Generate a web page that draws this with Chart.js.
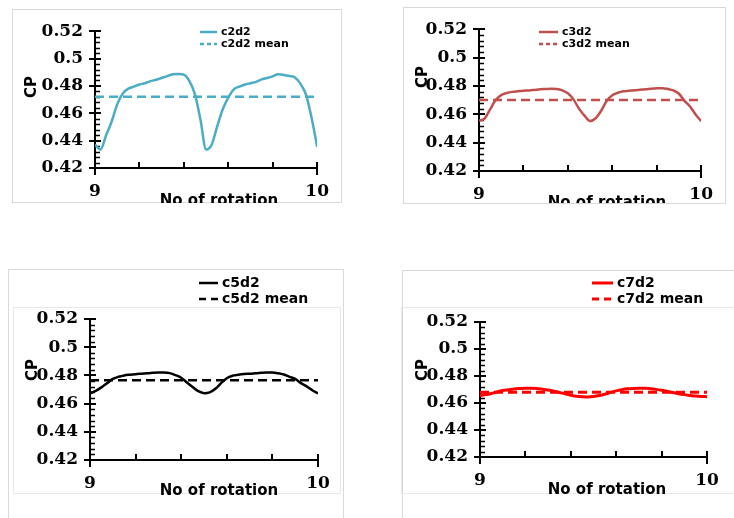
<!DOCTYPE html>
<html>
<head>
<meta charset="utf-8">
<script src="https://cdn.jsdelivr.net/npm/chart.js@4.4.1/dist/chart.umd.min.js"></script>
<style>
    html, body { margin: 0; padding: 0; background: #fff; }
    body { position: relative; width: 734px; height: 518px; overflow: hidden; }
    .frame { position: absolute; border: 1px solid #d9d9d9; box-sizing: border-box; }
    .inner { border-color: #e8e8e8; }
    canvas { position: absolute; }
</style>
</head>
<body>
<div class="frame" style="left:12px;top:9px;width:330px;height:194px"></div>
<div class="frame" style="left:403px;top:7px;width:323px;height:197px"></div>
<div class="frame" style="left:8px;top:269px;width:336px;height:260px"></div>
<div class="frame inner" style="left:13px;top:307px;width:328px;height:187px"></div>
<div class="frame" style="left:402px;top:270px;width:340px;height:260px"></div>
<div class="frame inner" style="left:401px;top:307px;width:340px;height:187px"></div>

<canvas id="c2" width="330" height="194" style="left:12px;top:9px"></canvas>
<canvas id="c3" width="323" height="196" style="left:403px;top:7px"></canvas>
<canvas id="c5" width="335" height="249" style="left:8px;top:269px"></canvas>
<canvas id="c7" width="332" height="248" style="left:402px;top:270px"></canvas>

<script>
// Data
const rotation = [9, 9.025, 9.05, 9.075, 9.1, 9.125, 9.15, 9.175, 9.2, 9.225, 9.25, 9.275, 9.3, 9.325, 9.35, 9.375, 9.4, 9.425, 9.45, 9.475, 9.5,
                  9.525, 9.55, 9.575, 9.6, 9.625, 9.65, 9.675, 9.7, 9.725, 9.75, 9.775, 9.8, 9.825, 9.85, 9.875, 9.9, 9.925, 9.95, 9.975, 10];

const c2d2 = [0.437, 0.4335, 0.444, 0.454, 0.4665, 0.4745, 0.478, 0.4795, 0.481, 0.482, 0.4835, 0.4845, 0.4858, 0.4872, 0.4885, 0.4888, 0.4882, 0.4835, 0.4738, 0.455, 0.4335,
              0.437, 0.4505, 0.463, 0.4715, 0.4775, 0.4795, 0.481, 0.482, 0.483, 0.4848, 0.4858, 0.487, 0.4885, 0.488, 0.4872, 0.4862, 0.4815, 0.4735, 0.4565, 0.4355];
const c3d2 = [0.4555, 0.457, 0.4635, 0.470, 0.4735, 0.475, 0.4758, 0.4762, 0.4766, 0.4768, 0.4772, 0.4776, 0.4778, 0.478, 0.4778, 0.4768, 0.4748, 0.4705, 0.464, 0.459, 0.4553,
              0.4572, 0.4625, 0.4695, 0.4735, 0.4752, 0.4762, 0.4766, 0.477, 0.4773, 0.4776, 0.478, 0.4783, 0.4784, 0.4778, 0.4768, 0.4745, 0.4695, 0.4655, 0.4598, 0.4552];
const c5d2 = [0.4674, 0.469, 0.4715, 0.4745, 0.4775, 0.479, 0.48, 0.4805, 0.4809, 0.4812, 0.4815, 0.4818, 0.482, 0.482, 0.4816, 0.4802, 0.4783, 0.475, 0.4718, 0.4688, 0.4674,
              0.468, 0.4705, 0.4745, 0.478, 0.4798, 0.4805, 0.481, 0.4812, 0.4815, 0.4818, 0.482, 0.482, 0.4815, 0.4806, 0.479, 0.4775, 0.4745, 0.4722, 0.4695, 0.4672];
const c7d2 = [0.4655, 0.4662, 0.467, 0.4682, 0.4692, 0.4698, 0.4704, 0.4707, 0.4709, 0.4709, 0.4707, 0.4702, 0.4696, 0.4688, 0.4678, 0.4668, 0.4658, 0.465, 0.4646, 0.4645, 0.4648,
              0.4655, 0.4665, 0.4678, 0.469, 0.4699, 0.4705, 0.4708, 0.4709, 0.4709, 0.4706, 0.4701, 0.4694, 0.4686, 0.4678, 0.4669, 0.4662, 0.4656, 0.4651, 0.4648, 0.4647];

const c2d2Mean = 0.472;
const c3d2Mean = 0.470;
const c5d2Mean = 0.4765;
const c7d2Mean = 0.468;

const yTicks = [0.42, 0.44, 0.46, 0.48, 0.5, 0.52];
const xTicks = [9, 10];
const xMinorTicks = [9.2, 9.4, 9.6, 9.8];

const tickFont = { family: "'DejaVu Serif', 'Liberation Serif', serif", size: 17, weight: 'bold' };
const sansBold = "'DejaVu Sans', Verdana, sans-serif";

// axis lines + major/minor tick marks, drawn under the curves
const axisTicks = {
    id: 'axisTicks',
    beforeDatasetsDraw(chart) {
        const { ctx, chartArea: a, scales: { x, y } } = chart;
        ctx.save();
        ctx.strokeStyle = '#000';
        ctx.lineWidth = 2;
        ctx.beginPath();
        ctx.moveTo(a.left, a.top - 1);
        ctx.lineTo(a.left, a.bottom);
        ctx.lineTo(a.right, a.bottom);
        yTicks.forEach(v => {
            const py = Math.round(y.getPixelForValue(v));
            ctx.moveTo(a.left - 6, py); ctx.lineTo(a.left + 6, py);
        });
        xTicks.forEach(v => {
            const px = Math.round(x.getPixelForValue(v));
            ctx.moveTo(px, a.bottom - 6); ctx.lineTo(px, a.bottom + 7);
        });
        xMinorTicks.forEach(v => {
            const px = Math.round(x.getPixelForValue(v));
            ctx.moveTo(px, a.bottom); ctx.lineTo(px, a.bottom - 6);
        });
        ctx.stroke();
        ctx.lineWidth = 1.5;
        ctx.beginPath();
        for (let i = 0; i < yTicks.length - 1; i++) {
            for (let k = 1; k < 5; k++) {
                const v = yTicks[i] + (yTicks[i + 1] - yTicks[i]) * k / 5;
                const py = Math.round(y.getPixelForValue(v)) + 0.5;
                ctx.moveTo(a.left, py); ctx.lineTo(a.left + 5, py);
            }
        }
        ctx.stroke();
        ctx.restore();
    }
};

// legend + axis titles at fixed spots inside each panel
const panelText = {
    id: 'panelText',
    afterDraw(chart, args, o) {
        const ctx = chart.ctx;
        ctx.save();
        ctx.fillStyle = '#000';
        ctx.textBaseline = 'middle';
        chart.data.datasets.forEach((ds, i) => {
            const ly = o.legendY[i];
            ctx.save();
            ctx.strokeStyle = ds.borderColor;
            ctx.lineWidth = ds.borderWidth;
            ctx.setLineDash(o.legendDash[i]);
            ctx.beginPath();
            ctx.moveTo(o.legendX, ly);
            ctx.lineTo(o.legendX + o.legendLen, ly);
            ctx.stroke();
            ctx.restore();
            ctx.font = 'bold ' + o.legendSize + 'px ' + sansBold;
            ctx.textAlign = 'left';
            ctx.fillText(ds.label, o.legendX + o.legendLen + 4, ly);
        });
        ctx.font = 'bold 15px ' + sansBold;
        ctx.textAlign = 'center';
        ctx.fillText('No of rotation', o.xTitle[0], o.xTitle[1]);
        ctx.translate(o.yTitle[0], o.yTitle[1]);
        ctx.rotate(-Math.PI / 2);
        ctx.fillText('CP', 0, 0);
        ctx.restore();
    }
};

function makePanel(id, values, mean, label, color, width, box, plot, text) {
    const series = rotation.map((r, i) => ({ x: r, y: values[i] }));
    const meanLine = [{ x: rotation[0], y: mean }, { x: rotation[rotation.length - 1], y: mean }];
    const off = (p) => [p[0] - box.left, p[1] - box.top];
    return new Chart(document.getElementById(id), {
        type: 'line',
        data: {
            datasets: [
                { label: label, data: series, borderColor: color, borderWidth: width,
                  pointRadius: 0, tension: 0.4, cubicInterpolationMode: 'monotone' },
                { label: label + ' mean', data: meanLine, borderColor: color, borderWidth: width,
                  borderDash: [9, 5], pointRadius: 0 }
            ]
        },
        options: {
            responsive: false,
            animation: false,
            events: [],
            layout: { padding: { left: 0, top: plot.top - box.top, right: box.left + box.width - plot.right, bottom: 0 } },
            plugins: {
                legend: { display: false },
                tooltip: { enabled: false },
                panelText: {
                    legendX: text.legendX - box.left,
                    legendY: text.legendY.map(v => v - box.top),
                    legendLen: text.legendLen,
                    legendSize: text.legendSize,
                    legendDash: [[], text.dash],
                    xTitle: off(text.xTitle),
                    yTitle: off(text.yTitle)
                }
            },
            scales: {
                x: {
                    type: 'linear', min: 9, max: 10,
                    afterBuildTicks: s => { s.ticks = xTicks.map(v => ({ value: v })); },
                    afterFit: s => { s.height = box.top + box.height - plot.bottom; },
                    grid: { display: false, drawTicks: false },
                    border: { display: false },
                    ticks: { font: tickFont, color: '#000', padding: 13, maxRotation: 0, autoSkip: false }
                },
                y: {
                    min: 0.42, max: 0.52,
                    afterBuildTicks: s => { s.ticks = yTicks.map(v => ({ value: v })); },
                    afterFit: s => { s.width = plot.left - box.left; },
                    grid: { display: false, drawTicks: false },
                    border: { display: false },
                    ticks: { font: tickFont, color: '#000', padding: 12, autoSkip: false,
                             callback: v => String(+v.toFixed(2)) }
                }
            }
        },
        plugins: [axisTicks, panelText]
    });
}

makePanel('c2', c2d2, c2d2Mean, 'c2d2', '#4bacc6', 2.5,
    { left: 12, top: 9, width: 330, height: 194 },
    { left: 95, top: 28, right: 321, bottom: 168 },
    { legendX: 200, legendY: [32, 44], legendLen: 17, legendSize: 11, dash: [4, 3], xTitle: [219, 201], yTitle: [32, 87] });

makePanel('c3', c3d2, c3d2Mean, 'c3d2', '#c0504d', 2.5,
    { left: 403, top: 7, width: 323, height: 196 },
    { left: 479, top: 24, right: 705, bottom: 171 },
    { legendX: 539, legendY: [32, 44], legendLen: 19, legendSize: 11, dash: [4, 3], xTitle: [607, 203], yTitle: [423, 77] });

makePanel('c5', c5d2, c5d2Mean, 'c5d2', '#000000', 2.5,
    { left: 8, top: 269, width: 335, height: 249 },
    { left: 90, top: 319, right: 318, bottom: 460 },
    { legendX: 199, legendY: [283, 299], legendLen: 19, legendSize: 14, dash: [7, 5], xTitle: [219, 491], yTitle: [33, 370] });

makePanel('c7', c7d2, c7d2Mean, 'c7d2', '#ff0000', 3,
    { left: 402, top: 270, width: 332, height: 248 },
    { left: 480, top: 322, right: 707, bottom: 457 },
    { legendX: 592, legendY: [283, 299], legendLen: 21, legendSize: 14, dash: [7, 5], xTitle: [607, 490], yTitle: [423, 370] });
</script>
</body>
</html>
